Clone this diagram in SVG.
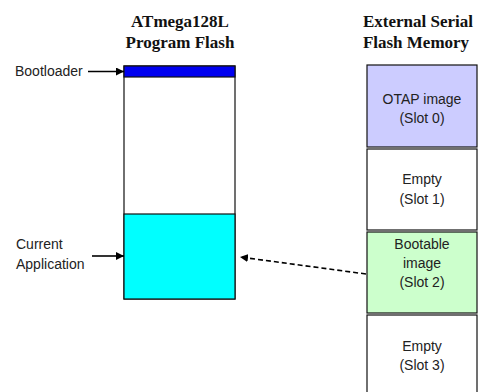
<svg xmlns="http://www.w3.org/2000/svg" width="480" height="392" viewBox="0 0 480 392">
<defs>
<marker id="ah" viewBox="0 0 10 10" refX="10" refY="5" markerWidth="8" markerHeight="8" markerUnits="userSpaceOnUse" orient="auto"><path d="M0,0 L10,5 L0,10 Z" fill="#000"/></marker>
</defs>
<style>
.hd{font-family:"Liberation Serif","Times New Roman",serif;font-weight:bold;font-size:17px;fill:#111;text-anchor:middle}
.lb{font-family:"Liberation Sans",Arial,sans-serif;font-size:14px;fill:#222}
.ct{text-anchor:middle}
.box{stroke:#111;stroke-width:1.2}
.con{stroke:#000;stroke-width:1.6;fill:none}
</style>
<rect width="480" height="392" fill="#fff"/>
<g id="hdr-left"><text class="hd" x="180" y="27">ATmega128L</text><text class="hd" x="180" y="48">Program Flash</text></g>
<g id="hdr-right"><text class="hd" x="418" y="27">External Serial</text><text class="hd" x="416" y="48">Flash Memory</text></g>
<g id="flash">
<rect class="box" x="124" y="66" width="111" height="233" fill="#fff"/>
<rect class="box" x="124" y="66" width="111" height="11" fill="#0000f0"/>
<rect class="box" x="124" y="214" width="111" height="85" fill="#00ffff"/>
</g>
<g id="bootloader-label"><text class="lb" x="15" y="76">Bootloader</text></g>
<g id="current-label"><text class="lb" x="16" y="249">Current</text><text class="lb" x="16" y="269">Application</text></g>
<g id="slot0"><rect class="box" x="367" y="65" width="110" height="82" fill="#ccccff"/><text class="lb ct" x="422" y="104">OTAP image</text><text class="lb ct" x="422" y="123">(Slot 0)</text></g>
<g id="slot1"><rect class="box" x="367" y="149" width="110" height="81" fill="#fff"/><text class="lb ct" x="422" y="184">Empty</text><text class="lb ct" x="422" y="204">(Slot 1)</text></g>
<g id="slot2"><rect class="box" x="367" y="232" width="110" height="81" fill="#ccffcc"/><text class="lb ct" x="422" y="249">Bootable</text><text class="lb ct" x="422" y="268">image</text><text class="lb ct" x="422" y="287">(Slot 2)</text></g>
<g id="slot3"><rect class="box" x="367" y="315" width="110" height="82" fill="#fff"/><text class="lb ct" x="422" y="351">Empty</text><text class="lb ct" x="422" y="370">(Slot 3)</text></g>
<g id="connectors">
<line class="con" x1="88" y1="71.5" x2="124" y2="71.5" marker-end="url(#ah)"/>
<line class="con" x1="92" y1="256" x2="124" y2="256" marker-end="url(#ah)"/>
<line class="con" x1="366" y1="274" x2="240" y2="257" stroke-dasharray="5,3" marker-end="url(#ah)"/>
</g>
</svg>
